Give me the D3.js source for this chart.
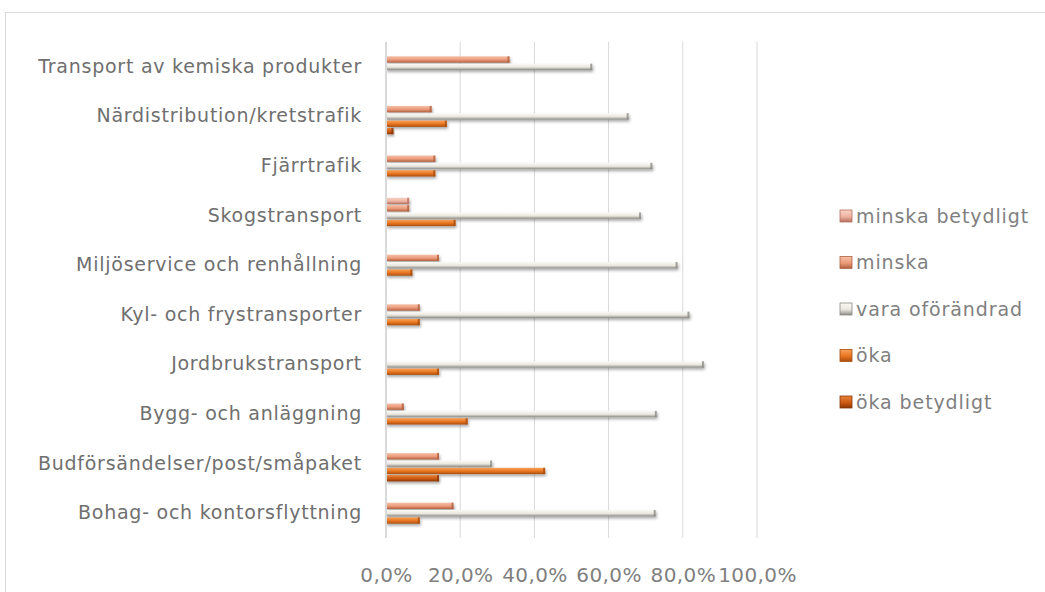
<!DOCTYPE html>
<html>
<head>
<meta charset="utf-8">
<script src="https://cdn.jsdelivr.net/npm/d3@7"></script>
<style>
  html, body { margin: 0; padding: 0; background: #fff; }
  svg { display: block; }
  text { font-family: "DejaVu Sans", sans-serif; }
</style>
</head>
<body>
<svg id="chart" width="1045" height="592"></svg>
<script>
// ---- data ----
const categories = [
  "Transport av kemiska produkter",
  "Närdistribution/kretstrafik",
  "Fjärrtrafik",
  "Skogstransport",
  "Miljöservice och renhållning",
  "Kyl- och frystransporter",
  "Jordbrukstransport",
  "Bygg- och anläggning",
  "Budförsändelser/post/småpaket",
  "Bohag- och kontorsflyttning"
];
const seriesNames = ["minska betydligt", "minska", "vara oförändrad", "öka", "öka betydligt"];
const minskaBetydligt = [0, 0, 0, 6.25, 0, 0, 0, 0, 0, 0];
const minska          = [33.3, 12.3, 13.3, 6.25, 14.3, 9.1, 0, 4.8, 14.3, 18.2];
const varaOforandrad  = [55.6, 65.4, 71.8, 68.75, 78.6, 81.8, 85.7, 73.0, 28.6, 72.7];
const oka             = [0, 16.4, 13.3, 18.75, 7.1, 9.1, 14.3, 22.0, 42.9, 9.1];
const okaBetydligt    = [0, 2.0, 0, 0, 0, 0, 0, 0, 14.3, 0];
const tickValues = [0, 20, 40, 60, 80, 100];
const tickLabels = ["0,0%", "20,0%", "40,0%", "60,0%", "80,0%", "100,0%"];

const seriesValues = [minskaBetydligt, minska, varaOforandrad, oka, okaBetydligt];
const seriesColors = [
  { top: "#f8d2c6", mid: "#eeb3a0", bot: "#b56f5e" },
  { top: "#f6c0a6", mid: "#ea9a78", bot: "#b0603f" },
  { top: "#fbfaf6", mid: "#e9e7df", bot: "#8b8a85" },
  { top: "#f7a25a", mid: "#e8741f", bot: "#a84e0e" },
  { top: "#e9813a", mid: "#cc5a12", bot: "#8a3706" }
];

// ---- layout ----
const svg = d3.select("#chart");
const plot = { left: 386, right: 757, top: 42, bottom: 538 };

const x = d3.scaleLinear().domain([0, 100]).range([plot.left, plot.right]);
const y = d3.scaleBand().domain(categories).range([plot.top, plot.bottom])
  .paddingInner(0.24).paddingOuter(0.12);
const ySub = d3.scaleBand().domain(seriesNames).range([0, y.bandwidth()]).padding(0.14);

const defs = svg.append("defs");
seriesColors.forEach((c, i) => {
  const g = defs.append("linearGradient").attr("id", "g" + i)
    .attr("x1", 0).attr("y1", 0).attr("x2", 0).attr("y2", 1);
  g.append("stop").attr("offset", "0%").attr("stop-color", c.top);
  g.append("stop").attr("offset", "55%").attr("stop-color", c.mid);
  g.append("stop").attr("offset", "100%").attr("stop-color", c.bot);
});
const f = defs.append("filter").attr("id", "sh").attr("x", "-5%").attr("y", "-50%")
  .attr("width", "115%").attr("height", "250%");
f.append("feDropShadow").attr("dx", 1).attr("dy", 2).attr("stdDeviation", 1.6)
  .attr("flood-color", "#000").attr("flood-opacity", 0.35);

// outer border
svg.append("rect").attr("x", 5.5).attr("y", 12.5).attr("width", 1100).attr("height", 700)
  .attr("fill", "none").attr("stroke", "#d9d9d9").attr("stroke-width", 1);

// grid lines
svg.append("g").selectAll("line").data(tickValues.slice(1)).join("line")
  .attr("x1", d => x(d)).attr("x2", d => x(d))
  .attr("y1", plot.top).attr("y2", plot.bottom)
  .attr("stroke", "#d9d9d9").attr("stroke-width", 1);

// bars
const groups = svg.append("g").selectAll("g").data(categories).join("g")
  .attr("transform", d => `translate(0,${y(d)})`);
groups.each(function(cat, ci) {
  const g = d3.select(this);
  seriesNames.forEach((s, si) => {
    const v = seriesValues[si][ci];
    if (!v) return;
    g.append("rect")
      .attr("x", x(0)).attr("y", ySub(s))
      .attr("width", x(v) - x(0)).attr("height", ySub.bandwidth())
      .attr("fill", `url(#g${si})`).attr("filter", "url(#sh)");
    g.append("rect")
      .attr("x", x(v) - 2).attr("y", ySub(s))
      .attr("width", 2).attr("height", ySub.bandwidth())
      .attr("fill", seriesColors[si].bot).attr("opacity", 0.8);
  });
});

// left axis line
svg.append("line").attr("x1", plot.left).attr("x2", plot.left)
  .attr("y1", plot.top).attr("y2", plot.bottom)
  .attr("stroke", "#d9d9d9").attr("stroke-width", 2);

// category labels
const yAxis = d3.axisLeft(y).tickSize(0).tickPadding(24);
const yg = svg.append("g").attr("transform", `translate(${plot.left},0)`).call(yAxis);
yg.select(".domain").remove();
yg.selectAll("text").attr("font-size", 19).attr("fill", "#6f6f6f")
  .style("font-family", "'DejaVu Sans', sans-serif")
  .style("letter-spacing", "0.75px");

// x tick labels
const xAxis = d3.axisBottom(x).tickValues(tickValues).tickSize(0)
  .tickFormat((d, i) => tickLabels[i]);
const xg = svg.append("g").attr("transform", `translate(0,${plot.bottom + 27})`).call(xAxis);
xg.select(".domain").remove();
xg.selectAll("text").attr("font-size", 20).attr("fill", "#7f7f7f")
  .style("font-family", "'DejaVu Sans', sans-serif")
  .style("letter-spacing", "0.4px");

// legend
const legendY = d3.scalePoint().domain(seriesNames).range([216, 402]);
const lg = svg.append("g").selectAll("g").data(seriesNames).join("g")
  .attr("transform", d => `translate(840,${legendY(d)})`);
lg.append("rect").attr("x", 0).attr("y", -6).attr("width", 12).attr("height", 12)
  .attr("fill", (d, i) => `url(#g${i})`).attr("stroke", (d, i) => seriesColors[i].bot)
  .attr("stroke-width", 0.8);
lg.append("text").attr("x", 16).attr("y", 0).attr("dy", "0.35em")
  .attr("font-size", 19).attr("fill", "#7f7f7f")
  .style("letter-spacing", "0.9px").text(d => d);
</script>
</body>
</html>
